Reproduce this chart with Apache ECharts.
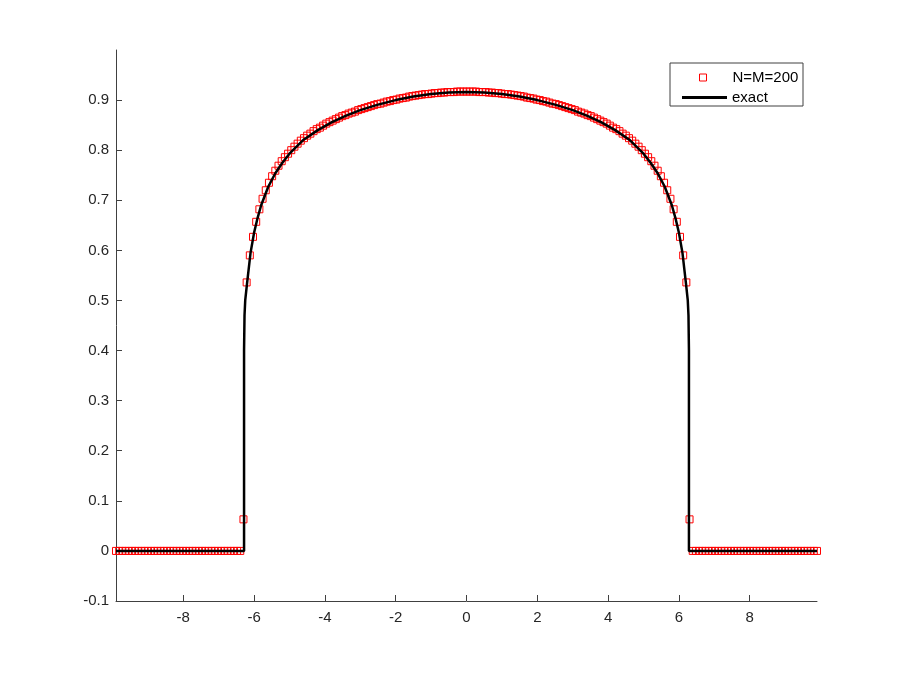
<!DOCTYPE html>
<html>
<head>
<meta charset="utf-8">
<script src="https://cdn.jsdelivr.net/npm/echarts@6/dist/echarts.min.js"></script>
<style>
  html, body { margin: 0; padding: 0; background: #fff; }
  #chart { width: 900px; height: 675px; }
</style>
</head>
<body>
<div id="chart"></div>
<script>
// ===================================================
//  DATOS
// ===================================================
// puntos numéricos (N=M=200)
const numX = [
  -9.9, -9.81, -9.72, -9.63, -9.54, -9.45, -9.36, -9.27, -9.18, -9.09,
  -9.0, -8.91, -8.82, -8.73, -8.64, -8.55, -8.46, -8.37, -8.28, -8.19,
  -8.1, -8.01, -7.92, -7.83, -7.74, -7.65, -7.56, -7.47, -7.38, -7.29,
  -7.2, -7.11, -7.02, -6.93, -6.84, -6.75, -6.66, -6.57, -6.48, -6.39,
  -6.3, -6.21, -6.12, -6.03, -5.94, -5.85, -5.76, -5.67, -5.58, -5.49,
  -5.4, -5.31, -5.22, -5.13, -5.04, -4.95, -4.86, -4.77, -4.68, -4.59,
  -4.5, -4.41, -4.32, -4.23, -4.14, -4.05, -3.96, -3.87, -3.78, -3.69,
  -3.6, -3.51, -3.42, -3.33, -3.24, -3.15, -3.06, -2.97, -2.88, -2.79,
  -2.7, -2.61, -2.52, -2.43, -2.34, -2.25, -2.16, -2.07, -1.98, -1.89,
  -1.8, -1.71, -1.62, -1.53, -1.44, -1.35, -1.26, -1.17, -1.08, -0.99,
  -0.9, -0.81, -0.72, -0.63, -0.54, -0.45, -0.36, -0.27, -0.18, -0.09,
  0,
  0.09, 0.18, 0.27, 0.36, 0.45, 0.54, 0.63, 0.72, 0.81, 0.9,
  0.99, 1.08, 1.17, 1.26, 1.35, 1.44, 1.53, 1.62, 1.71, 1.8,
  1.89, 1.98, 2.07, 2.16, 2.25, 2.34, 2.43, 2.52, 2.61, 2.7,
  2.79, 2.88, 2.97, 3.06, 3.15, 3.24, 3.33, 3.42, 3.51, 3.6,
  3.69, 3.78, 3.87, 3.96, 4.05, 4.14, 4.23, 4.32, 4.41, 4.5,
  4.59, 4.68, 4.77, 4.86, 4.95, 5.04, 5.13, 5.22, 5.31, 5.4,
  5.49, 5.58, 5.67, 5.76, 5.85, 5.94, 6.03, 6.12, 6.21, 6.3,
  6.39, 6.48, 6.57, 6.66, 6.75, 6.84, 6.93, 7.02, 7.11, 7.2,
  7.29, 7.38, 7.47, 7.56, 7.65, 7.74, 7.83, 7.92, 8.01, 8.1,
  8.19, 8.28, 8.37, 8.46, 8.55, 8.64, 8.73, 8.82, 8.91, 9.0,
  9.09, 9.18, 9.27, 9.36, 9.45, 9.54, 9.63, 9.72, 9.81, 9.9
];
const numY = [
  0, 0, 0, 0, 0, 0, 0, 0, 0, 0,
  0, 0, 0, 0, 0, 0, 0, 0, 0, 0,
  0, 0, 0, 0, 0, 0, 0, 0, 0, 0,
  0, 0, 0, 0, 0, 0, 0, 0, 0, 0,
  0.063, 0.536, 0.590, 0.627, 0.657, 0.682, 0.703, 0.720, 0.735, 0.748,
  0.759, 0.769, 0.778, 0.786, 0.793, 0.800, 0.807, 0.813, 0.819, 0.824,
  0.829, 0.833, 0.838, 0.842, 0.845, 0.849, 0.853, 0.856, 0.859, 0.862,
  0.865, 0.868, 0.870, 0.873, 0.875, 0.877, 0.880, 0.882, 0.884, 0.886,
  0.888, 0.890, 0.892, 0.893, 0.895, 0.897, 0.898, 0.900, 0.901, 0.903,
  0.904, 0.905, 0.907, 0.908, 0.909, 0.910, 0.911, 0.912, 0.912, 0.913,
  0.914, 0.914, 0.915, 0.915, 0.916, 0.916, 0.916, 0.917, 0.917, 0.917,
  0.917,
  0.917, 0.917, 0.917, 0.916, 0.916, 0.916, 0.915, 0.915, 0.914, 0.914,
  0.913, 0.912, 0.912, 0.911, 0.910, 0.909, 0.908, 0.907, 0.905, 0.904,
  0.903, 0.901, 0.900, 0.898, 0.897, 0.895, 0.893, 0.892, 0.890, 0.888,
  0.886, 0.884, 0.882, 0.880, 0.877, 0.875, 0.873, 0.870, 0.868, 0.865,
  0.862, 0.859, 0.856, 0.853, 0.849, 0.845, 0.842, 0.838, 0.833, 0.829,
  0.824, 0.819, 0.813, 0.807, 0.800, 0.793, 0.786, 0.778, 0.769, 0.759,
  0.748, 0.735, 0.720, 0.703, 0.682, 0.657, 0.627, 0.590, 0.536, 0.063,
  0, 0, 0, 0, 0, 0, 0, 0, 0, 0,
  0, 0, 0, 0, 0, 0, 0, 0, 0, 0,
  0, 0, 0, 0, 0, 0, 0, 0, 0, 0,
  0, 0, 0, 0, 0, 0, 0, 0, 0, 0
];

// solución exacta
const exactX = [
  -9.9, -6.283, -6.283, -6.27, -6.25, -6.2, -6.1, -6.0, -5.9, -5.8,
  -5.6, -5.4, -5.2, -5.0, -4.6, -4.2, -3.8, -3.4, -3.0, -2.5,
  -2.0, -1.5, -1.0, -0.5, 0,
  0.5, 1.0, 1.5, 2.0, 2.5, 3.0, 3.4, 3.8, 4.2, 4.6,
  5.0, 5.2, 5.4, 5.6, 5.8, 5.9, 6.0, 6.1, 6.2, 6.25,
  6.27, 6.283, 6.283, 9.9
];
const exactY = [
  0, 0, 0.40, 0.47, 0.50, 0.533, 0.595, 0.635, 0.665, 0.690,
  0.727, 0.754, 0.775, 0.793, 0.821, 0.840, 0.856, 0.869, 0.880, 0.891,
  0.900, 0.907, 0.912, 0.915, 0.916,
  0.915, 0.912, 0.907, 0.900, 0.891, 0.880, 0.869, 0.856, 0.840, 0.821,
  0.793, 0.775, 0.754, 0.727, 0.690, 0.665, 0.635, 0.595, 0.533, 0.50,
  0.47, 0.40, 0, 0
];

// marcas de los ejes
const xTicks = [-8, -6, -4, -2, 0, 2, 4, 6, 8];
const yTicks = [-0.1, 0, 0.1, 0.2, 0.3, 0.4, 0.5, 0.6, 0.7, 0.8, 0.9];

// ===================================================
//  GRÁFICO
// ===================================================
(function () {
    const chart = echarts.init(document.getElementById('chart'));
    const axisColor = '#404040';
    const font = 'Liberation Sans, Arial, sans-serif';

    const numData = numX.map((x, i) => [x, numY[i]]);
    const exactData = exactX.map((x, i) => [x, exactY[i]]);

    const option = {
        animation: false,
        backgroundColor: '#fff',
        grid: { left: 116, right: 83, top: 50, bottom: 74 },
        xAxis: {
            type: 'value',
            min: -9.9,
            max: 9.9,
            axisLine: { show: true, onZero: false, lineStyle: { color: axisColor, width: 1 } },
            axisTick: { show: true, inside: true, length: 6, customValues: xTicks,
                        lineStyle: { color: axisColor } },
            axisLabel: { customValues: xTicks, color: '#262626', fontSize: 15,
                         fontFamily: font, margin: 9 },
            splitLine: { show: false }
        },
        yAxis: {
            type: 'value',
            min: -0.1,
            max: 1.0,
            axisLine: { show: true, onZero: false, lineStyle: { color: axisColor, width: 1 } },
            axisTick: { show: true, inside: true, length: 6, customValues: yTicks,
                        lineStyle: { color: axisColor } },
            axisLabel: {
                customValues: yTicks, color: '#262626', fontSize: 15,
                fontFamily: font, margin: 7,
                formatter: v => (Math.abs(v) < 1e-9 ? '0' : v.toFixed(1))
            },
            splitLine: { show: false }
        },
        graphic: [{
            type: 'rect',
            shape: { x: 670, y: 63, width: 133, height: 43 },
            style: { fill: '#fff', stroke: '#404040', lineWidth: 1 },
            z: 50
        }],
        legend: [{
            data: [{ name: 'N=M=200', icon: 'rect' }],
            left: 694,
            top: 65,
            itemWidth: 7,
            itemHeight: 7,
            selectedMode: false,
            z: 60,
            itemStyle: { color: 'rgba(255,255,255,0)', borderColor: '#ff0000', borderWidth: 1 },
            textStyle: { fontSize: 15, fontFamily: font, color: '#000',
                         padding: [0, 0, 0, 21] }
        }, {
            data: [{ name: 'exact', icon: 'rect' }],
            left: 677,
            top: 85,
            itemWidth: 45,
            itemHeight: 3,
            selectedMode: false,
            z: 60,
            itemStyle: { color: '#000', borderWidth: 0 },
            lineStyle: { width: 0 },
            textStyle: { fontSize: 15, fontFamily: font, color: '#000',
                         padding: [0, 0, 0, 0] }
        }],
        series: [{
            name: 'N=M=200',
            type: 'scatter',
            symbol: 'rect',
            symbolSize: 7,
            data: numData,
            clip: false,
            itemStyle: { color: 'rgba(255,255,255,0)', borderColor: '#ff0000',
                         borderWidth: 1, opacity: 1 },
            z: 2
        }, {
            name: 'exact',
            type: 'line',
            data: exactData,
            showSymbol: false,
            symbol: 'none',
            lineStyle: { color: '#000', width: 2.5 },
            itemStyle: { color: '#000' },
            z: 3
        }]
    };

    chart.setOption(option);
})();
</script>
</body>
</html>
